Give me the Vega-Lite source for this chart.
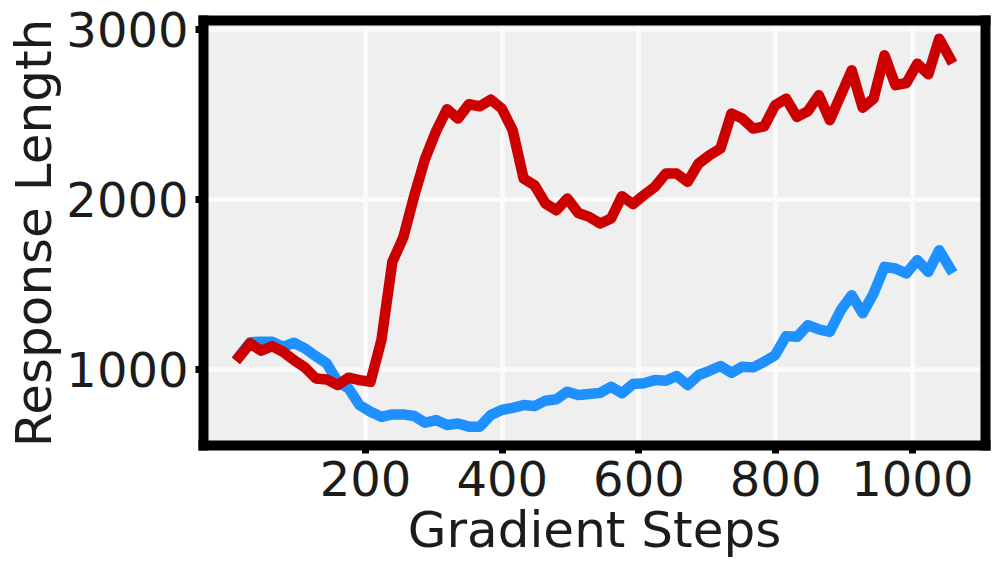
{
  "$schema": "https://vega.github.io/schema/vega-lite/v6.json",
  "width": 782,
  "height": 425,
  "autosize": "none",
  "padding": {"left": 203, "top": 20, "right": 12, "bottom": 125},
  "background": "white",
  "data": {
    "values": [
      {"step":16,"model":"red","length":1072},{"step":32,"model":"red","length":1151},{"step":48,"model":"red","length":1108},{"step":64,"model":"red","length":1135},
      {"step":80,"model":"red","length":1102},{"step":96,"model":"red","length":1053},{"step":112,"model":"red","length":1010},{"step":128,"model":"red","length":945},
      {"step":144,"model":"red","length":939},{"step":160,"model":"red","length":906},{"step":176,"model":"red","length":949},{"step":192,"model":"red","length":935},
      {"step":208,"model":"red","length":925},{"step":224,"model":"red","length":1171},{"step":240,"model":"red","length":1631},{"step":256,"model":"red","length":1775},
      {"step":272,"model":"red","length":2020},{"step":288,"model":"red","length":2240},{"step":304,"model":"red","length":2400},{"step":320,"model":"red","length":2530},
      {"step":336,"model":"red","length":2475},{"step":352,"model":"red","length":2559},{"step":368,"model":"red","length":2547},{"step":384,"model":"red","length":2586},
      {"step":400,"model":"red","length":2534},{"step":416,"model":"red","length":2406},{"step":432,"model":"red","length":2122},{"step":448,"model":"red","length":2082},
      {"step":464,"model":"red","length":1975},{"step":480,"model":"red","length":1935},{"step":496,"model":"red","length":2004},{"step":512,"model":"red","length":1919},
      {"step":528,"model":"red","length":1896},{"step":544,"model":"red","length":1857},{"step":560,"model":"red","length":1886},{"step":576,"model":"red","length":2018},
      {"step":592,"model":"red","length":1971},{"step":608,"model":"red","length":2024},{"step":624,"model":"red","length":2073},{"step":640,"model":"red","length":2151},
      {"step":656,"model":"red","length":2151},{"step":672,"model":"red","length":2102},{"step":688,"model":"red","length":2210},{"step":704,"model":"red","length":2259},
      {"step":720,"model":"red","length":2298},{"step":736,"model":"red","length":2504},{"step":752,"model":"red","length":2475},{"step":768,"model":"red","length":2416},
      {"step":784,"model":"red","length":2429},{"step":800,"model":"red","length":2553},{"step":816,"model":"red","length":2592},{"step":832,"model":"red","length":2484},
      {"step":848,"model":"red","length":2519},{"step":864,"model":"red","length":2612},{"step":880,"model":"red","length":2465},{"step":896,"model":"red","length":2612},
      {"step":912,"model":"red","length":2759},{"step":928,"model":"red","length":2539},{"step":944,"model":"red","length":2592},{"step":960,"model":"red","length":2847},
      {"step":976,"model":"red","length":2671},{"step":992,"model":"red","length":2684},{"step":1008,"model":"red","length":2798},{"step":1024,"model":"red","length":2735},
      {"step":1040,"model":"red","length":2945},{"step":1056,"model":"red","length":2828},
      {"step":16,"model":"blue","length":1075},{"step":32,"model":"blue","length":1158},{"step":48,"model":"blue","length":1161},{"step":64,"model":"blue","length":1161},
      {"step":80,"model":"blue","length":1131},{"step":96,"model":"blue","length":1155},{"step":112,"model":"blue","length":1122},{"step":128,"model":"blue","length":1076},
      {"step":144,"model":"blue","length":1033},{"step":160,"model":"blue","length":925},{"step":176,"model":"blue","length":886},{"step":192,"model":"blue","length":788},
      {"step":208,"model":"blue","length":749},{"step":224,"model":"blue","length":719},{"step":240,"model":"blue","length":733},{"step":256,"model":"blue","length":733},
      {"step":272,"model":"blue","length":724},{"step":288,"model":"blue","length":684},{"step":304,"model":"blue","length":700},{"step":320,"model":"blue","length":671},
      {"step":336,"model":"blue","length":680},{"step":352,"model":"blue","length":661},{"step":368,"model":"blue","length":661},{"step":384,"model":"blue","length":729},
      {"step":400,"model":"blue","length":759},{"step":416,"model":"blue","length":772},{"step":432,"model":"blue","length":788},{"step":448,"model":"blue","length":782},
      {"step":464,"model":"blue","length":814},{"step":480,"model":"blue","length":822},{"step":496,"model":"blue","length":867},{"step":512,"model":"blue","length":847},
      {"step":528,"model":"blue","length":853},{"step":544,"model":"blue","length":860},{"step":560,"model":"blue","length":896},{"step":576,"model":"blue","length":857},
      {"step":592,"model":"blue","length":912},{"step":608,"model":"blue","length":916},{"step":624,"model":"blue","length":935},{"step":640,"model":"blue","length":931},
      {"step":656,"model":"blue","length":959},{"step":672,"model":"blue","length":906},{"step":688,"model":"blue","length":965},{"step":704,"model":"blue","length":990},
      {"step":720,"model":"blue","length":1018},{"step":736,"model":"blue","length":978},{"step":752,"model":"blue","length":1014},{"step":768,"model":"blue","length":1010},
      {"step":784,"model":"blue","length":1043},{"step":800,"model":"blue","length":1082},{"step":816,"model":"blue","length":1194},{"step":832,"model":"blue","length":1190},
      {"step":848,"model":"blue","length":1259},{"step":864,"model":"blue","length":1233},{"step":880,"model":"blue","length":1219},{"step":896,"model":"blue","length":1347},
      {"step":912,"model":"blue","length":1435},{"step":928,"model":"blue","length":1328},{"step":944,"model":"blue","length":1445},{"step":960,"model":"blue","length":1602},
      {"step":976,"model":"blue","length":1592},{"step":992,"model":"blue","length":1563},{"step":1008,"model":"blue","length":1641},{"step":1024,"model":"blue","length":1572},
      {"step":1040,"model":"blue","length":1700},{"step":1056,"model":"blue","length":1592}
    ]
  },
  "layer": [
    {
      "transform": [{"filter": "datum.model === 'blue'"}],
      "mark": {"type": "line", "color": "#1e90ff", "strokeWidth": 10.5, "strokeCap": "square", "strokeJoin": "round"},
      "encoding": {
        "x": {
          "field": "step", "type": "quantitative",
          "scale": {"domain": [-37, 1107], "nice": false, "zero": false},
          "axis": {
            "orient": "bottom", "values": [200, 400, 600, 800, 1000], "format": "d", "grid": true,
            "title": "Gradient Steps", "titleX": 391, "titleY": 101.7, "titleBaseline": "alphabetic", "titleAlign": "center",
            "labelPadding": 4, "labelFlush": false, "labelOverlap": false
          }
        },
        "y": {
          "field": "length", "type": "quantitative",
          "scale": {"domain": [553, 3055], "nice": false, "zero": false},
          "axis": {
            "orient": "left", "values": [1000, 2000, 3000], "format": "d", "grid": true,
            "title": "Response Length", "titleX": -153, "titleY": 212.5, "titleAngle": 270, "titleBaseline": "alphabetic", "titleAlign": "center",
            "labelPadding": 7, "labelOffset": 3, "labelFlush": false, "labelOverlap": false
          }
        }
      }
    },
    {
      "transform": [{"filter": "datum.model === 'red'"}],
      "mark": {"type": "line", "color": "#cc0000", "strokeWidth": 10.5, "strokeCap": "square", "strokeJoin": "round"},
      "encoding": {
        "x": {
          "field": "step", "type": "quantitative",
          "scale": {"domain": [-37, 1107], "nice": false, "zero": false},
          "axis": {"orient": "top", "grid": false, "ticks": false, "labels": false, "title": null}
        },
        "y": {
          "field": "length", "type": "quantitative",
          "scale": {"domain": [553, 3055], "nice": false, "zero": false},
          "axis": {"orient": "right", "grid": false, "ticks": false, "labels": false, "title": null}
        }
      }
    }
  ],
  "resolve": {"axis": {"x": "independent", "y": "independent"}},
  "config": {
    "view": {"fill": "#efefef", "stroke": null},
    "axis": {
      "domainColor": "#000000", "domainWidth": 10, "domainCap": "square",
      "tickColor": "#000000", "tickWidth": 7, "tickSize": 8,
      "gridColor": "#fbfbfb", "gridWidth": 4.5,
      "labelFont": "DejaVu Sans", "labelFontSize": 48, "labelColor": "#1c1c1c",
      "titleFont": "DejaVu Sans", "titleFontSize": 50, "titleFontWeight": "normal", "titleColor": "#1c1c1c"
    }
  }
}
